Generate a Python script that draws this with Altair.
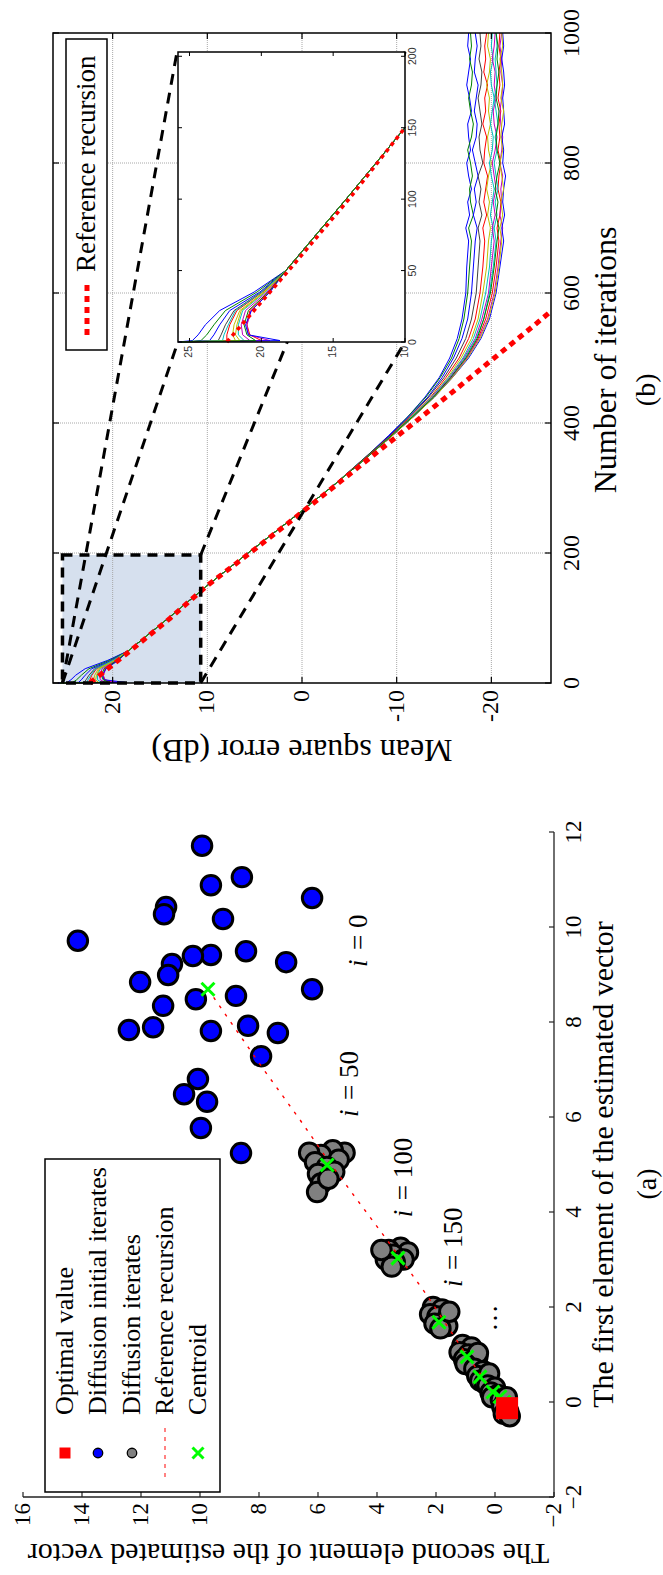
import altair as alt
import pandas as pd

SERIF = "Liberation Serif"
SANS = "Liberation Sans"

# ====================== panel (b) data ======================
B_DB_TICKS = [20, 10, 0, -10, -20]
B_DB_LABELS = ["20", "10", "0", "-10", "-20"]
B_IT_TICKS = [0, 200, 400, 600, 800, 1000]
B_IT_LABELS = ["0", "200", "400", "600", "800", "1000"]
B_DB_GRID = [20, 10, 0, -10, -20]
B_IT_GRID = [200, 400, 600, 800]

CURVE_NAMES = ["n1", "n2", "n3", "n4", "n5", "n6", "n7", "n8", "n10", "n11", "n12", "n13", "n14", "n9"]
CURVE_COLORS = ["#0000ff", "#008000", "#0000ff", "#404040", "#ff0000", "#bfbf00", "#00bfbf",
                "#bf00bf", "#ff0000", "#bf00bf", "#0000ff", "#00bfbf", "#bfbf00", "#008000"]

START_IT = [0, 1, 5, 12, 22, 35]
CURVE_START = [
    [25.8, 24.8, 24.4, 23.9, 22.9, 20.5],
    [25.6, 24.2, 23.8, 23.3, 22.5, 20.3],
    [25.5, 23.6, 23.3, 22.9, 22.2, 20.1],
    [25.7, 23.0, 22.8, 22.5, 21.9, 20.0],
    [25.4, 22.4, 22.4, 22.2, 21.7, 19.9],
    [25.6, 21.8, 22.0, 21.9, 21.5, 19.8],
    [25.5, 21.2, 21.6, 21.6, 21.3, 19.7],
    [25.7, 20.8, 21.3, 21.4, 21.1, 19.6],
    [25.5, 20.0, 20.8, 21.0, 20.8, 19.5],
    [25.6, 19.4, 20.9, 21.0, 20.7, 19.4],
    [25.7, 18.7, 20.9, 21.1, 20.7, 19.4],
    [25.6, 22.7, 22.6, 22.3, 21.8, 19.95],
    [25.5, 21.5, 21.8, 21.7, 21.4, 19.75],
    [25.6, 20.4, 21.0, 21.2, 20.9, 19.5],
]

TRUNK_IT = [50, 100, 150, 200, 250, 300]
TRUNK_DB = [18.3, 14.1, 10.0, 5.7, 1.3, -3.0]

TAIL_IT = [350, 380, 410, 440, 470, 500, 530, 560, 600, 640,
           680, 700, 720, 740, 760, 780, 800, 820, 840, 860, 880, 900, 920, 940, 960, 980, 1000]
CURVE_TAIL = [
    [-6.9, -9.1, -11.2, -13.0, -14.5, -15.6, -16.4, -16.9, -17.3, -17.4,
     -17.6, -17.3, -17.7, -17.5, -17.9, -17.6, -17.4, -17.8, -17.6, -17.5, -17.9, -17.7, -17.4, -17.6, -17.8, -17.5, -17.6],
    [-6.9, -9.2, -11.2, -13.1, -14.6, -15.8, -16.6, -17.1, -17.5, -17.7,
     -17.9, -17.6, -18.1, -17.8, -17.7, -18.0, -17.8, -17.5, -17.9, -18.1, -17.8, -17.6, -17.9, -18.0, -17.7, -17.9, -17.8],
    [-7.0, -9.2, -11.3, -13.3, -14.8, -16.0, -16.9, -17.5, -17.9, -18.1,
     -18.3, -18.5, -18.1, -18.4, -18.2, -18.6, -18.3, -18.0, -18.4, -18.5, -18.2, -18.4, -18.6, -18.2, -18.3, -18.5, -18.3],
    [-7.0, -9.3, -11.4, -13.4, -15.0, -16.3, -17.3, -17.9, -18.4, -18.6,
     -18.8, -18.6, -19.0, -18.7, -18.9, -18.6, -19.1, -18.8, -18.7, -19.0, -18.8, -18.6, -18.9, -19.0, -18.7, -18.9, -18.8],
    [-7.0, -9.3, -11.5, -13.6, -15.2, -16.6, -17.6, -18.3, -18.8, -19.1,
     -19.3, -19.1, -19.5, -19.2, -19.4, -19.6, -19.2, -19.3, -19.5, -19.1, -19.4, -19.3, -19.6, -19.2, -19.4, -19.3, -19.5],
    [-7.1, -9.4, -11.6, -13.7, -15.4, -16.8, -17.9, -18.6, -19.1, -19.5,
     -19.7, -19.9, -19.6, -19.8, -19.5, -19.7, -20.0, -19.7, -19.6, -19.9, -19.7, -19.8, -19.5, -19.8, -19.9, -19.6, -19.7],
    [-7.1, -9.4, -11.6, -13.7, -15.5, -17.0, -18.1, -18.8, -19.4, -19.8,
     -20.0, -20.2, -19.9, -20.1, -20.3, -20.0, -19.8, -20.1, -20.2, -19.9, -20.1, -20.3, -20.0, -19.9, -20.2, -20.0, -20.1],
    [-7.1, -9.4, -11.7, -13.8, -15.6, -17.1, -18.3, -19.0, -19.7, -20.0,
     -20.3, -20.1, -20.4, -20.2, -20.5, -20.3, -20.1, -20.4, -20.6, -20.3, -20.2, -20.5, -20.3, -20.4, -20.1, -20.3, -20.4],
    [-7.1, -9.5, -11.7, -13.9, -15.8, -17.4, -18.6, -19.4, -20.1, -20.5,
     -20.8, -20.6, -20.9, -21.0, -20.7, -20.8, -21.0, -20.7, -20.9, -20.8, -21.0, -20.7, -20.9, -20.8, -21.0, -20.8, -20.9],
    [-7.1, -9.5, -11.8, -13.9, -15.8, -17.4, -18.7, -19.6, -20.3, -20.7,
     -21.0, -21.2, -20.9, -21.1, -21.0, -21.2, -20.9, -21.1, -21.2, -21.0, -20.9, -21.1, -21.2, -21.0, -21.1, -20.9, -21.1],
    [-7.1, -9.5, -11.8, -14.0, -15.9, -17.6, -18.9, -19.8, -20.5, -20.9,
     -21.3, -21.1, -21.4, -21.2, -21.3, -21.5, -21.2, -21.3, -21.1, -21.4, -21.3, -21.2, -21.4, -21.3, -21.1, -21.3, -21.2],
    [-7.1, -9.4, -11.7, -13.9, -15.7, -17.2, -18.4, -19.2, -19.8, -20.2,
     -20.5, -20.3, -20.6, -20.4, -20.7, -20.5, -20.3, -20.6, -20.4, -20.7, -20.5, -20.3, -20.6, -20.5, -20.4, -20.6, -20.5],
    [-7.1, -9.5, -11.8, -14.0, -15.9, -17.5, -18.8, -19.7, -20.4, -20.8,
     -21.1, -20.9, -21.2, -21.0, -21.3, -21.1, -20.9, -21.2, -21.0, -21.1, -21.3, -21.0, -21.2, -21.1, -20.9, -21.2, -21.1],
    [-7.1, -9.4, -11.7, -13.9, -15.7, -17.3, -18.5, -19.2, -19.9, -20.3,
     -20.6, -20.8, -20.5, -20.7, -20.4, -20.6, -20.9, -20.6, -20.5, -20.7, -20.8, -20.5, -20.6, -20.8, -20.6, -20.7, -20.5],
]

REF_IT = [0, 50, 100, 150, 200, 250, 300, 350, 400, 450, 500, 550, 572]
REF_DB = [22.4, 18.1, 13.9, 10.0, 5.5, 1.1, -3.2, -7.5, -11.8, -16.1, -20.3, -24.5, -26.3]

ZOOM_DB = [25.3, 10.7]
ZOOM_IT = [0, 197]
CONN_IT_FROM = [0, 0, 197, 0]
CONN_DB_FROM = [25.3, 25.3, 10.7, 10.7]
CONN_IT_TO = [971, 525, 971, 525]
CONN_DB_TO = [13.2, 13.1, -10.9, -10.9]

INSET_DB_TICKS = [25, 20, 15, 10]
INSET_DB_LABELS = ["25", "20", "15", "10"]
INSET_IT_TICKS = [0, 50, 100, 150, 200]
INSET_IT_LABELS = ["0", "50", "100", "150", "200"]

# ====================== panel (a) data ======================
BLUE_X1 = [11.71, 11.05, 10.88, 10.61, 10.42, 10.27, 10.17, 9.71, 9.49, 9.41, 9.39, 9.26, 9.22, 8.99, 8.84,
           8.69, 8.55, 8.48, 8.34, 7.92, 7.89, 7.83, 7.81, 7.77, 7.28, 6.80, 6.48, 6.32, 5.77, 5.24]
BLUE_X2 = [9.93, 8.58, 9.63, 6.20, 11.15, 11.22, 9.22, 14.14, 8.44, 9.63, 10.24, 7.08, 10.95, 11.08, 12.03,
           6.20, 8.78, 10.14, 11.25, 8.37, 11.59, 12.41, 9.63, 7.36, 7.93, 10.07, 10.54, 9.76, 9.97, 8.61]

GRAY_X1 = [5.25, 5.3, 5.2, 5.25, 5.1, 5.05, 4.95, 4.85, 4.8, 4.6, 4.42, 4.7,
           3.25, 3.2, 3.15, 3.1, 3.0, 3.0, 2.95, 2.85, 3.2,
           2.0, 1.95, 1.85, 1.8, 1.7, 1.65, 1.6, 1.55, 1.9,
           1.2, 1.15, 1.05, 1.0, 0.95, 0.9, 0.85, 1.03, 0.8,
           0.7, 0.65, 0.55, 0.5, 0.45, 0.4, 0.6,
           0.35, 0.3, 0.2, 0.15, 0.1,
           0.05, 0.0, -0.1, -0.2, -0.25, -0.3, 0.1]
GRAY_X2 = [5.1, 5.5, 5.9, 6.3, 5.3, 6.1, 5.7, 5.45, 6.0, 5.9, 6.03, 5.65,
           3.2, 3.6, 2.95, 3.45, 3.7, 3.1, 3.4, 3.5, 3.85,
           2.1, 1.8, 2.2, 1.95, 1.7, 2.05, 1.62, 1.85, 1.55,
           1.1, 0.8, 1.2, 0.9, 0.6, 1.05, 0.8, 0.58, 1.0,
           0.7, 0.4, 0.6, 0.3, 0.5, 0.35, 0.2,
           0.25, 0.0, 0.15, -0.1, 0.1,
           -0.2, -0.35, -0.25, -0.45, -0.3, -0.5, -0.4]

CENT_X1 = [8.69, 4.99, 3.03, 1.68, 0.95, 0.53, 0.21, 0.11, 0.0]
CENT_X2 = [9.73, 5.69, 3.29, 1.90, 0.95, 0.51, 0.07, -0.17, -0.3]

OPT_X1 = [-0.13]
OPT_X2 = [-0.41]

REF_A_X1 = [8.69, 7.05, 5.94, 4.99, 3.41, 2.25, 1.0, 0.3, -0.13]
REF_A_X2 = [9.73, 7.9, 6.61, 5.55, 3.66, 2.31, 0.98, 0.15, -0.41]

A_X1_TICKS = [-2, 0, 2, 4, 6, 8, 10, 12]
A_X1_LABELS = ["\u22122", "0", "2", "4", "6", "8", "10", "12"]
A_X2_TICKS = [-2, 0, 2, 4, 6, 8, 10, 12, 14, 16]
A_X2_LABELS = ["\u22122", "0", "2", "4", "6", "8", "10", "12", "14", "16"]

ANNOT_TEXT = ["= 0", "= 50", "= 100", "= 150"]
ANNOT_X1 = [9.16, 6.0, 3.89, 2.42]
ANNOT_X2 = [4.61, 4.92, 3.08, 1.39]

LEG_A_LABELS = ["Optimal value", "Diffusion initial iterates", "Diffusion iterates",
                "Reference recursion", "Centroid"]

# ====================== scales ======================
SBX = alt.Scale(domain=[-26.3, 26.3], range=[551, 53])
SBY = alt.Scale(domain=[0, 1000], range=[683, 33])
SIX = alt.Scale(domain=[10, 25.8], range=[405, 178])
SIY = alt.Scale(domain=[0, 203], range=[342, 52])
SAX = alt.Scale(domain=[-2, 16], range=[554, 23])
SAY = alt.Scale(domain=[-2, 12], range=[1497, 832])

XSHAPE = "M-1,-1L1,1M-1,1L1,-1"
DUMMY = pd.DataFrame({"a": [0]})


def enc(sx, sy, hx=False, vy=False):
    e = dict(x=alt.X("h:Q", scale=sx, axis=None), y=alt.Y("v:Q", scale=sy, axis=None))
    if hx:
        e["x2"] = alt.X2("h2:Q")
    if vy:
        e["y2"] = alt.Y2("v2:Q")
    return e


def D(**cols):
    return pd.DataFrame(cols)


# ---------- curve table ----------
rows = []
for k, name in enumerate(CURVE_NAMES):
    its = START_IT + TRUNK_IT + TAIL_IT
    dbs = CURVE_START[k] + TRUNK_DB + CURVE_TAIL[k]
    for it, db in zip(its, dbs):
        rows.append({"curve": name, "v": it, "h": db})
curve_df = pd.DataFrame(rows)
inset_df = curve_df[curve_df["v"] <= 150]
color_enc = alt.Color("curve:N", scale=alt.Scale(domain=CURVE_NAMES, range=CURVE_COLORS), legend=None)

ref_df = D(h=REF_DB, v=REF_IT)

# ====================== panel (b) ======================
nb_t = len(B_DB_TICKS)
ni_t = len(B_IT_TICKS)
b_layers = [
    alt.Chart(D(h=[ZOOM_DB[0]], h2=[ZOOM_DB[1]], v=[ZOOM_IT[0]], v2=[ZOOM_IT[1]]))
    .mark_rect(fill="#d6e0ee").encode(**enc(SBX, SBY, True, True)),
    alt.Chart(D(h=B_DB_GRID, v=[0] * len(B_DB_GRID), v2=[1000] * len(B_DB_GRID)))
    .mark_rule(color="#a8a8a8", strokeWidth=1, strokeDash=[1, 1]).encode(**enc(SBX, SBY, False, True)),
    alt.Chart(D(v=B_IT_GRID, h=[-26.3] * len(B_IT_GRID), h2=[26.3] * len(B_IT_GRID)))
    .mark_rule(color="#a8a8a8", strokeWidth=1, strokeDash=[1, 1]).encode(**enc(SBX, SBY, True, False)),
    alt.Chart(curve_df).mark_line(strokeWidth=1).encode(
        **enc(SBX, SBY), color=color_enc, order=alt.Order("v:Q")),
    alt.Chart(ref_df).mark_line(color="#ff0000", strokeWidth=5, strokeDash=[6, 5]).encode(
        **enc(SBX, SBY), order=alt.Order("v:Q")),
    alt.Chart(D(h=[ZOOM_DB[0]], h2=[ZOOM_DB[1]], v=[ZOOM_IT[0]], v2=[ZOOM_IT[1]]))
    .mark_rect(fill="transparent", stroke="black", strokeWidth=3.5, strokeDash=[10, 7])
    .encode(**enc(SBX, SBY, True, True)),
    alt.Chart(D(h=CONN_DB_FROM, v=CONN_IT_FROM, h2=CONN_DB_TO, v2=CONN_IT_TO))
    .mark_rule(color="black", strokeWidth=3, strokeDash=[11, 8]).encode(**enc(SBX, SBY, True, True)),
    alt.Chart(D(h=[-26.3], h2=[26.3], v=[0], v2=[1000]))
    .mark_rect(fill="transparent", stroke="black", strokeWidth=1.5).encode(**enc(SBX, SBY, True, True)),
    # inward ticks
    alt.Chart(D(h=B_DB_TICKS, v=[1000] * nb_t, v2=[1000] * nb_t))
    .mark_rule(color="black", strokeWidth=1.2, y2Offset=6).encode(**enc(SBX, SBY, False, True)),
    alt.Chart(D(h=B_DB_TICKS, v=[0] * nb_t, v2=[0] * nb_t))
    .mark_rule(color="black", strokeWidth=1.2, y2Offset=-6).encode(**enc(SBX, SBY, False, True)),
    alt.Chart(D(v=B_IT_TICKS, h=[-26.3] * ni_t, h2=[-26.3] * ni_t))
    .mark_rule(color="black", strokeWidth=1.2, x2Offset=-6).encode(**enc(SBX, SBY, True, False)),
    alt.Chart(D(v=B_IT_TICKS, h=[26.3] * ni_t, h2=[26.3] * ni_t))
    .mark_rule(color="black", strokeWidth=1.2, x2Offset=6).encode(**enc(SBX, SBY, True, False)),
    # tick labels
    alt.Chart(D(h=B_DB_TICKS, v=[0] * nb_t, t=B_DB_LABELS))
    .mark_text(angle=270, align="right", baseline="middle", yOffset=7, font=SERIF, fontSize=24, color="black")
    .encode(**enc(SBX, SBY), text="t:N"),
    alt.Chart(D(h=[-26.3] * ni_t, v=B_IT_TICKS, t=B_IT_LABELS))
    .mark_text(angle=270, align="center", baseline="top", xOffset=9, font=SERIF, fontSize=24, color="black")
    .encode(**enc(SBX, SBY), text="t:N"),
    # titles
    alt.Chart(D(h=[-26.3], v=[497], t=["Number of iterations"]))
    .mark_text(angle=270, align="center", baseline="middle", xOffset=55, font=SERIF, fontSize=32, color="black")
    .encode(**enc(SBX, SBY), text="t:N"),
    alt.Chart(D(h=[0], v=[0], t=["Mean square error (dB)"]))
    .mark_text(angle=180, align="center", baseline="middle", yOffset=67, font=SERIF, fontSize=32, color="black")
    .encode(**enc(SBX, SBY), text="t:N"),
    alt.Chart(D(h=[-26.3], v=[451], t=["(b)"]))
    .mark_text(angle=270, align="center", baseline="middle", xOffset=96, font=SERIF, fontSize=28, color="black")
    .encode(**enc(SBX, SBY), text="t:N"),
    # legend
    alt.Chart(DUMMY).mark_rect(fill="white", stroke="black", strokeWidth=1.5).encode(
        x=alt.value(66), x2=alt.value(107), y=alt.value(39), y2=alt.value(350)),
    alt.Chart(DUMMY).mark_rule(color="#ff0000", strokeWidth=5, strokeDash=[6, 5]).encode(
        x=alt.value(87), y=alt.value(285), y2=alt.value(338)),
    alt.Chart(DUMMY).mark_text(text="Reference recursion", angle=270, align="left", baseline="middle",
                               font=SERIF, fontSize=27, color="black").encode(x=alt.value(87), y=alt.value(272)),
]
panel_b = alt.layer(*b_layers)

# ====================== inset ======================
ni_db = len(INSET_DB_TICKS)
ni_it = len(INSET_IT_TICKS)
inset_layers = [
    alt.Chart(D(h=[25.8], h2=[10], v=[0], v2=[203])).mark_rect(fill="white")
    .encode(**enc(SIX, SIY, True, True)),
    alt.Chart(inset_df).mark_line(strokeWidth=1).encode(
        **enc(SIX, SIY), color=color_enc, order=alt.Order("v:Q")),
    alt.Chart(ref_df[ref_df["v"] <= 150]).mark_line(color="#ff0000", strokeWidth=3.5, strokeDash=[4, 4])
    .encode(**enc(SIX, SIY), order=alt.Order("v:Q")),
    alt.Chart(D(h=[25.8], h2=[10], v=[0], v2=[203]))
    .mark_rect(fill="transparent", stroke="black", strokeWidth=1.5).encode(**enc(SIX, SIY, True, True)),
    alt.Chart(D(h=INSET_DB_TICKS, v=[0] * ni_db, v2=[0] * ni_db))
    .mark_rule(color="black", strokeWidth=1, y2Offset=-4).encode(**enc(SIX, SIY, False, True)),
    alt.Chart(D(h=INSET_DB_TICKS, v=[203] * ni_db, v2=[203] * ni_db))
    .mark_rule(color="black", strokeWidth=1, y2Offset=4).encode(**enc(SIX, SIY, False, True)),
    alt.Chart(D(v=INSET_IT_TICKS, h=[25.8] * ni_it, h2=[25.8] * ni_it))
    .mark_rule(color="black", strokeWidth=1, x2Offset=4).encode(**enc(SIX, SIY, True, False)),
    alt.Chart(D(v=INSET_IT_TICKS, h=[10] * ni_it, h2=[10] * ni_it))
    .mark_rule(color="black", strokeWidth=1, x2Offset=-4).encode(**enc(SIX, SIY, True, False)),
    alt.Chart(D(h=INSET_DB_TICKS, v=[0] * ni_db, t=INSET_DB_LABELS))
    .mark_text(angle=270, align="right", baseline="middle", yOffset=4, font=SANS, fontSize=10.5, color="#333333")
    .encode(**enc(SIX, SIY), text="t:N"),
    alt.Chart(D(h=[10] * ni_it, v=INSET_IT_TICKS, t=INSET_IT_LABELS))
    .mark_text(angle=270, align="center", baseline="top", xOffset=3, font=SANS, fontSize=10.5, color="#333333")
    .encode(**enc(SIX, SIY), text="t:N"),
]
inset = alt.layer(*inset_layers)

# ====================== panel (a) ======================
n1 = len(A_X1_TICKS)
n2 = len(A_X2_TICKS)
a_layers = [
    alt.Chart(D(h=BLUE_X2, v=BLUE_X1)).mark_point(
        shape="circle", filled=True, fill="#0000ff", stroke="black", strokeWidth=3, size=380, opacity=1)
    .encode(**enc(SAX, SAY)),
    alt.Chart(D(h=GRAY_X2, v=GRAY_X1)).mark_point(
        shape="circle", filled=True, fill="#808080", stroke="black", strokeWidth=3, size=380, opacity=1)
    .encode(**enc(SAX, SAY)),
    alt.Chart(D(h=REF_A_X2, v=REF_A_X1, idx=list(range(len(REF_A_X1))))).mark_line(
        color="#ff0000", strokeWidth=1.4, strokeDash=[3, 7]).encode(**enc(SAX, SAY), order=alt.Order("idx:Q")),
    alt.Chart(D(h=CENT_X2, v=CENT_X1)).mark_point(
        shape=XSHAPE, filled=False, color="#00ff00", strokeWidth=3, size=169, opacity=1)
    .encode(**enc(SAX, SAY)),
    alt.Chart(D(h=OPT_X2, v=OPT_X1)).mark_point(
        shape="square", filled=True, color="#ff0000", size=484, opacity=1, strokeWidth=0)
    .encode(**enc(SAX, SAY)),
    # annotations
    alt.Chart(D(h=ANNOT_X2, v=ANNOT_X1)).mark_text(
        text="i", angle=270, align="left", baseline="middle", font=SERIF, fontStyle="italic",
        fontSize=27, color="black").encode(**enc(SAX, SAY)),
    alt.Chart(D(h=ANNOT_X2, v=ANNOT_X1, t=ANNOT_TEXT)).mark_text(
        angle=270, align="left", baseline="middle", yOffset=-17, font=SERIF,
        fontSize=27, color="black").encode(**enc(SAX, SAY), text="t:N"),
    alt.Chart(D(h=[-0.07], v=[1.77], t=["\u2026"])).mark_text(
        angle=270, align="center", baseline="alphabetic", font=SERIF, fontSize=27, color="black")
    .encode(**enc(SAX, SAY), text="t:N"),
    # axes
    alt.Chart(D(h=[16], h2=[-2], v=[-2])).mark_rule(color="#222222", strokeWidth=1.3)
    .encode(**enc(SAX, SAY, True, False)),
    alt.Chart(D(h=[-2], v=[-2], v2=[12])).mark_rule(color="#222222", strokeWidth=1.3)
    .encode(**enc(SAX, SAY, False, True)),
    alt.Chart(D(h=A_X2_TICKS, v=[-2] * n2, v2=[-2] * n2))
    .mark_rule(color="#222222", strokeWidth=1.2, y2Offset=-5).encode(**enc(SAX, SAY, False, True)),
    alt.Chart(D(v=A_X1_TICKS, h=[-2] * n1, h2=[-2] * n1))
    .mark_rule(color="#222222", strokeWidth=1.2, x2Offset=-5).encode(**enc(SAX, SAY, True, False)),
    alt.Chart(D(h=A_X2_TICKS, v=[-2] * n2, t=A_X2_LABELS))
    .mark_text(angle=270, align="right", baseline="middle", yOffset=6, font=SERIF, fontSize=23, color="black")
    .encode(**enc(SAX, SAY), text="t:N"),
    alt.Chart(D(h=[-2] * n1, v=A_X1_TICKS, t=A_X1_LABELS))
    .mark_text(angle=270, align="center", baseline="top", xOffset=9, font=SERIF, fontSize=23, color="black")
    .encode(**enc(SAX, SAY), text="t:N"),
    alt.Chart(D(h=[-2], v=[5], t=["The first element of the estimated vector"]))
    .mark_text(angle=270, align="center", baseline="middle", xOffset=50, font=SERIF, fontSize=30, color="black")
    .encode(**enc(SAX, SAY), text="t:N"),
    alt.Chart(D(h=[7], v=[-2], t=["The second element of the estimated vector"]))
    .mark_text(angle=180, align="center", baseline="middle", yOffset=56, font=SERIF, fontSize=30, color="black")
    .encode(**enc(SAX, SAY), text="t:N"),
    alt.Chart(D(h=[-2], v=[4.59], t=["(a)"]))
    .mark_text(angle=270, align="center", baseline="middle", xOffset=94, font=SERIF, fontSize=28, color="black")
    .encode(**enc(SAX, SAY), text="t:N"),
    # legend
    alt.Chart(DUMMY).mark_rect(fill="white", stroke="black", strokeWidth=1.5).encode(
        x=alt.value(45), x2=alt.value(220), y=alt.value(1159), y2=alt.value(1492)),
    alt.Chart(DUMMY).mark_point(shape="square", filled=True, color="#ff0000", size=121, opacity=1).encode(
        x=alt.value(65), y=alt.value(1453)),
    alt.Chart(DUMMY).mark_point(shape="circle", filled=True, fill="#0000ff", stroke="black", strokeWidth=1.3,
                                size=90, opacity=1).encode(x=alt.value(98), y=alt.value(1453)),
    alt.Chart(DUMMY).mark_point(shape="circle", filled=True, fill="#808080", stroke="black", strokeWidth=1.3,
                                size=90, opacity=1).encode(x=alt.value(132), y=alt.value(1453)),
    alt.Chart(DUMMY).mark_rule(color="#ff5a5a", strokeWidth=1.5, strokeDash=[4, 5]).encode(
        x=alt.value(165), y=alt.value(1428), y2=alt.value(1482)),
    alt.Chart(DUMMY).mark_point(shape=XSHAPE, filled=False, color="#00ff00", strokeWidth=3, size=121,
                                opacity=1).encode(x=alt.value(198), y=alt.value(1453)),
]
for lx, lab in zip([65, 98, 132, 165, 198], LEG_A_LABELS):
    a_layers.append(
        alt.Chart(DUMMY).mark_text(text=lab, angle=270, align="left", baseline="middle", font=SERIF,
                                   fontSize=26, color="black").encode(x=alt.value(lx), y=alt.value(1415)))
panel_a = alt.layer(*a_layers)

chart = (
    alt.layer(panel_b, inset, panel_a)
    .resolve_scale(x="independent", y="independent")
    .properties(width=663, height=1575, padding=0, background="white",
                autosize=alt.AutoSizeParams(type="none"))
    .configure_view(strokeWidth=0)
)

chart.save("out.html", embed_options={"renderer": "svg", "actions": False})
